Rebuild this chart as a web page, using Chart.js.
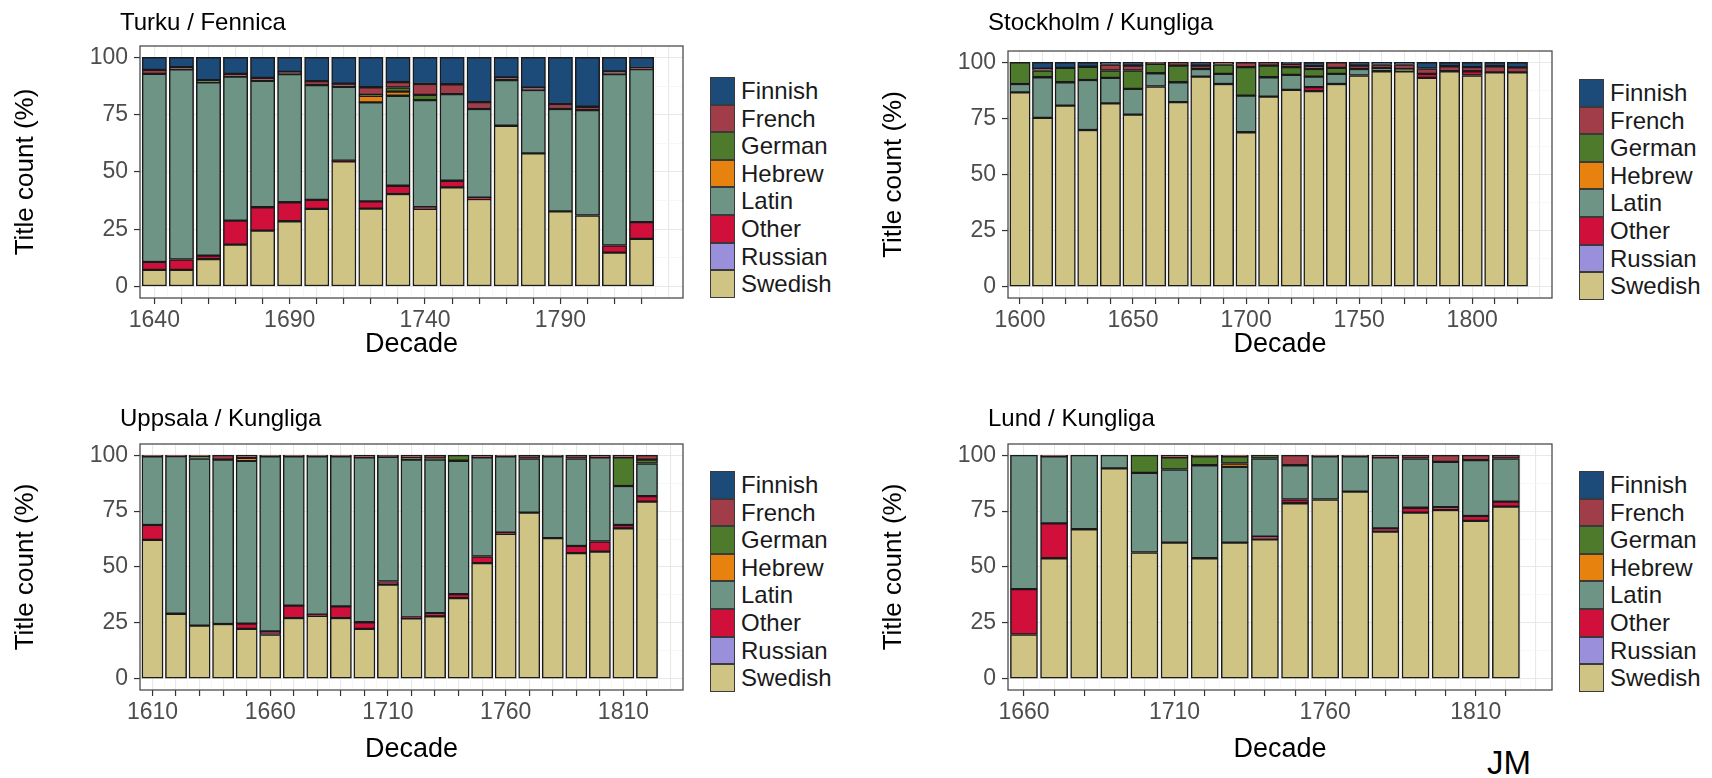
<!DOCTYPE html>
<html>
<head>
<meta charset="utf-8">
<script src="https://cdn.jsdelivr.net/npm/chart.js@4.4.1/dist/chart.umd.min.js"></script>
<style>
  body { margin: 0; background: #fff; font-family: "Liberation Sans", Arial, sans-serif; }
  #page { position: relative; width: 1712px; height: 778px; overflow: hidden; background: #fff; }
  #page canvas { position: absolute; }
  .ptitle { position: absolute; font-size: 24px; line-height: 25px; color: #000; white-space: nowrap; }
  .key { position: absolute; width: 25px; box-sizing: border-box; border: 1px solid #3a3a3a; }
  .lab { position: absolute; font-size: 24px; color: #1a1a1a; white-space: nowrap; }
  #jm { position: absolute; left: 1487px; top: 746px; font-size: 33px; line-height: 33px; color: #000; }
</style>
</head>
<body>
<div id="page"><div id="jm">JM</div></div>
<script>
// legend order (top to bottom) and stacking order (bottom to top)
const languages = ['Finnish', 'French', 'German', 'Hebrew', 'Latin', 'Other', 'Russian', 'Swedish']
const stackOrder = ['Swedish', 'Russian', 'Other', 'Latin', 'Hebrew', 'German', 'French', 'Finnish']

// Turku / Fennica
const turkuDecades = [1640, 1650, 1660, 1670, 1680, 1690, 1700, 1710, 1720, 1730, 1740, 1750, 1760, 1770, 1780, 1790, 1800, 1810, 1820]
const turkuSwedish = [7.3, 7.3, 12, 18.3, 24.4, 28.5, 33.9, 54.7, 34, 40.4, 33.9, 43.3, 38.2, 70.2, 58.1, 32.8, 31, 14.8, 20.8]
const turkuOther   = [3.4, 4.5, 1.5, 10.5, 10.2, 8.3, 3.9, 0.3, 3.2, 3.6, 0.7, 2.9, 0.6, 0, 0, 0, 0, 3.1, 7.3]
const turkuLatin   = [82.1, 83, 75.6, 62.8, 55.2, 55.9, 50.1, 32.2, 43.2, 39.3, 46.8, 37.8, 38.7, 19.9, 27.7, 44.7, 46, 74.8, 66.8]
const turkuHebrew  = [0, 0, 0, 0, 0, 0, 0, 0, 2.8, 1.8, 0, 0, 0, 0, 0, 0, 0, 0, 0]
const turkuGerman  = [0, 0, 1, 0, 0, 0, 0, 0, 0.5, 1.8, 2.3, 0, 0, 0, 0, 0, 0, 0, 0]
const turkuFrench  = [1.8, 1, 0, 1.2, 1.3, 1, 1.8, 1.4, 3.3, 2.3, 4.7, 4.3, 3, 1.2, 1, 2.2, 1.5, 1.2, 0.5]
const turkuFinnish = [5.4, 4.2, 9.9, 7.2, 8.9, 6.3, 10.3, 11.4, 13, 10.8, 11.6, 11.7, 19.5, 8.7, 13.2, 20.3, 21.5, 6.1, 4.6]

// Stockholm / Kungliga
const stockholmDecades = [1600, 1610, 1620, 1630, 1640, 1650, 1660, 1670, 1680, 1690, 1700, 1710, 1720, 1730, 1740, 1750, 1760, 1770, 1780, 1790, 1800, 1810, 1820]
const stockholmSwedish = [86.6, 75.2, 80.7, 69.8, 81.7, 76.7, 89.2, 82.2, 93.6, 90.3, 68.8, 84.7, 87.7, 87.1, 90.3, 94.1, 96, 96, 93, 96, 94.1, 95.5, 95.5]
const stockholmOther   = [0, 0, 0, 0, 0, 0, 0, 0, 0, 0, 0, 0, 0, 1.8, 0, 0, 0, 0, 1.8, 0, 1.9, 0, 0]
const stockholmLatin   = [3.7, 18.1, 10.4, 22.3, 11.3, 11.4, 5.9, 8.9, 3.4, 4.5, 16.3, 8.6, 6.7, 4.7, 4.5, 2.9, 1.5, 0, 0, 0, 0, 0, 0]
const stockholmGerman  = [9.7, 3, 6.4, 5.9, 3.3, 8.2, 4.2, 7.4, 0, 4.2, 12.7, 5.2, 3.4, 3.4, 2.7, 0, 0, 1, 0, 0, 0, 0, 0]
const stockholmFrench  = [0, 0.8, 0, 0, 2.7, 2.2, 0.7, 1.5, 1.5, 1, 2.2, 1.5, 1.5, 1.3, 2.5, 1.5, 1.5, 2, 2.4, 2.2, 1.8, 2.7, 2.2]
const stockholmFinnish = [0, 2.9, 2.5, 2, 1, 1.5, 0, 0, 1.5, 0, 0, 0, 0.7, 1.7, 0, 1.5, 1, 1, 2.8, 1.8, 2.2, 1.8, 2.3]

// Uppsala / Kungliga
const uppsalaDecades = [1610, 1620, 1630, 1640, 1650, 1660, 1670, 1680, 1690, 1700, 1710, 1720, 1730, 1740, 1750, 1760, 1770, 1780, 1790, 1800, 1810, 1820]
const uppsalaSwedish = [62.1, 29.1, 23.8, 24.5, 22.3, 19.8, 27.2, 28.2, 27.2, 22.3, 42.1, 27, 27.9, 36.1, 51.7, 64.8, 74.3, 62.9, 56.2, 56.9, 67.3, 79.2]
const uppsalaOther   = [6.7, 0, 0, 0, 2.4, 1.4, 5.5, 0.5, 5.2, 3, 1.4, 0.5, 1.5, 1.8, 3, 0.5, 0, 0, 3.2, 4.5, 1.5, 2.5]
const uppsalaLatin   = [30.7, 70.5, 74.7, 73.5, 72.8, 78.3, 66.8, 70.8, 67.1, 73.7, 55.8, 70.5, 68.6, 59.6, 44.3, 34.2, 24.2, 36.6, 39.1, 37.6, 17.4, 14.6]
const uppsalaHebrew  = [0, 0, 0, 0, 1.2, 0, 0, 0, 0, 0, 0, 0, 0, 0, 0, 0, 0, 0, 0, 0, 0, 0]
const uppsalaGerman  = [0, 0, 1, 0, 0, 0, 0, 0, 0, 0, 0, 1, 0.5, 2.5, 0, 0, 0, 0, 0, 0, 12.8, 1.7]
const uppsalaFrench  = [0.5, 0.4, 0.5, 2, 1.3, 0.5, 0.5, 0.5, 0.5, 1, 0.7, 1, 1.5, 0, 1, 0.5, 1.5, 0.5, 1.5, 1, 1, 2]

// Lund / Kungliga
const lundDecades = [1660, 1670, 1680, 1690, 1700, 1710, 1720, 1730, 1740, 1750, 1760, 1770, 1780, 1790, 1800, 1810, 1820]
const lundSwedish = [19.8, 53.9, 66.9, 94.1, 56.5, 60.9, 53.9, 60.9, 62.4, 78.5, 80.2, 83.7, 65.8, 74.3, 75.5, 70.6, 77]
const lundOther   = [20.3, 15.6, 0, 0, 0, 0, 0, 0, 1.2, 1.7, 0, 0, 1.5, 2.2, 1.2, 2.2, 2.2]
const lundLatin   = [59.9, 30, 33.1, 5.9, 35.6, 32.7, 41.6, 33.9, 34.9, 15.3, 19.3, 15.8, 31.7, 22, 20.3, 25, 19.3]
const lundHebrew  = [0, 0, 0, 0, 0, 0, 0, 1.5, 0, 0, 0, 0, 0, 0, 0, 0, 0]
const lundGerman  = [0, 0, 0, 0, 7.9, 5.4, 4, 3.2, 1.5, 0, 0, 0, 0, 0, 0, 0, 0]
const lundFrench  = [0, 0.5, 0, 0, 0, 1, 0.5, 0.5, 0, 4.5, 0.5, 0.5, 1, 1.5, 3, 2.2, 1.5]

const yTicks = [0, 25, 50, 75, 100]
const xLimitRight = 1835.3

const colors = {
  Finnish: '#1c4b7a',
  French: '#a13d48',
  German: '#4e7a2c',
  Hebrew: '#e8820f',
  Latin: '#6e9486',
  Other: '#d00f3b',
  Russian: '#9a8fdb',
  Swedish: '#d0c485'
}

const FONT = '"Liberation Sans", Arial, sans-serif'
Chart.defaults.font.family = FONT
const AXIS_W = 140
const ROW_H = 389

const panels = [
  {title: 'Turku / Fennica', decades: turkuDecades,
   series: {Swedish: turkuSwedish, Other: turkuOther, Latin: turkuLatin, Hebrew: turkuHebrew, German: turkuGerman, French: turkuFrench, Finnish: turkuFinnish},
   left: 140, right: 683, top: 46, bottom: 298, rowTop: 0, titleTop: 9, legendTop: 77, xTitleGap: 47},
  {title: 'Stockholm / Kungliga', decades: stockholmDecades,
   series: {Swedish: stockholmSwedish, Other: stockholmOther, Latin: stockholmLatin, German: stockholmGerman, French: stockholmFrench, Finnish: stockholmFinnish},
   left: 1008, right: 1552, top: 51, bottom: 298, rowTop: 0, titleTop: 9, legendTop: 79, xTitleGap: 47},
  {title: 'Uppsala / Kungliga', decades: uppsalaDecades,
   series: {Swedish: uppsalaSwedish, Other: uppsalaOther, Latin: uppsalaLatin, Hebrew: uppsalaHebrew, German: uppsalaGerman, French: uppsalaFrench},
   left: 140, right: 683, top: 444, bottom: 690, rowTop: 389, titleTop: 405, legendTop: 471, xTitleGap: 60},
  {title: 'Lund / Kungliga', decades: lundDecades,
   series: {Swedish: lundSwedish, Other: lundOther, Latin: lundLatin, Hebrew: lundHebrew, German: lundGerman, French: lundFrench},
   left: 1008, right: 1552, top: 444, bottom: 690, rowTop: 389, titleTop: 405, legendTop: 471, xTitleGap: 60}
]

// panel border drawn over the bars, like ggplot's theme_bw
const frame = {
  id: 'frame',
  afterDatasetsDraw(chart) {
    const {ctx, chartArea: a} = chart
    ctx.save()
    ctx.strokeStyle = '#4d4d4d'
    ctx.lineWidth = 1.3
    ctx.strokeRect(a.left, a.top, a.right - a.left, a.bottom - a.top)
    ctx.restore()
  }
}

const page = document.getElementById('page')

function drawPanel(p) {
  const first = p.decades[0]
  const last = p.decades[p.decades.length - 1]
  const xMin = first - 5.3
  const xMax = xLimitRight
  // bars are 90% of a decade wide
  const barPx = (p.right - p.left) / (xMax - xMin) * 10 * 0.9

  const cLeft = p.left - AXIS_W
  const cW = p.right - cLeft + 6
  const canvas = document.createElement('canvas')
  canvas.width = cW
  canvas.height = ROW_H
  canvas.style.left = cLeft + 'px'
  canvas.style.top = p.rowTop + 'px'
  canvas.style.width = cW + 'px'
  canvas.style.height = ROW_H + 'px'
  page.appendChild(canvas)

  const datasets = stackOrder.filter(l => p.series[l]).map(l => ({
    label: l,
    data: p.decades.map((d, i) => ({x: d, y: p.series[l][i] || null})),
    backgroundColor: colors[l],
    borderColor: '#1a1a1a',
    borderWidth: 1.5,
    borderSkipped: false,
    barThickness: barPx
  }))

  const xH = p.rowTop + ROW_H - p.bottom
  const titleSize = 27
  const titlePadBottom = xH - p.xTitleGap - titleSize * 1.2 / 2

  new Chart(canvas, {
    type: 'bar',
    data: {datasets},
    options: {
      responsive: false,
      animation: false,
      layout: {padding: {top: p.top - p.rowTop, right: 6, left: 0, bottom: 0}},
      plugins: {legend: {display: false}, tooltip: {enabled: false}},
      scales: {
        x: {
          type: 'linear', stacked: true, offset: false, min: xMin, max: xMax,
          border: {display: false},
          afterFit: s => { s.height = xH },
          afterBuildTicks: s => {
            const t = []
            for (let v = first - 5; v <= last + 10; v += 5) {
              if (v >= xMin && v <= xMax) t.push({value: v})
            }
            s.ticks = t
          },
          grid: {
            offset: false,
            color: c => (c.tick && (c.tick.value - first) % 10 === 0) ? '#e8e8e8' : '#f3f3f3',
            lineWidth: c => (c.tick && (c.tick.value - first) % 10 === 0) ? 1.1 : 0.7,
            tickColor: c => (c.tick && (c.tick.value - first) % 10 === 0 && c.tick.value <= last) ? '#333' : 'rgba(0,0,0,0)',
            tickLength: 6,
            tickWidth: 1.2
          },
          ticks: {
            autoSkip: false, maxRotation: 0, minRotation: 0, padding: 3,
            color: '#4d4d4d', font: {size: 23},
            callback: v => ((v - first) % 50 === 0 && v <= last) ? String(v) : ''
          },
          title: {display: true, text: 'Decade', color: '#000', font: {size: titleSize},
                  padding: {top: 0, bottom: titlePadBottom}}
        },
        y: {
          stacked: true, min: -5, max: 105,
          border: {display: false},
          afterFit: s => { s.width = AXIS_W },
          afterBuildTicks: s => {
            const t = []
            yTicks.forEach((v, i) => {
              t.push({value: v})
              if (i < yTicks.length - 1) t.push({value: (v + yTicks[i + 1]) / 2})
            })
            s.ticks = t
          },
          grid: {
            color: c => (c.tick && yTicks.includes(c.tick.value)) ? '#e8e8e8' : '#f3f3f3',
            lineWidth: c => (c.tick && yTicks.includes(c.tick.value)) ? 1.1 : 0.7,
            tickColor: c => (c.tick && yTicks.includes(c.tick.value)) ? '#333' : 'rgba(0,0,0,0)',
            tickLength: 6,
            tickWidth: 1.2
          },
          ticks: {
            autoSkip: false, padding: 6, color: '#4d4d4d', font: {size: 23},
            callback: v => yTicks.includes(v) ? String(v) : ''
          },
          title: {display: true, text: 'Title count (%)', color: '#000', font: {size: 26},
                  padding: {top: 10, bottom: 0}}
        }
      }
    },
    plugins: [frame]
  })

  // panel title
  const t = document.createElement('div')
  t.className = 'ptitle'
  t.textContent = p.title
  t.style.left = (p.left - 20) + 'px'
  t.style.top = p.titleTop + 'px'
  page.appendChild(t)

  // ggplot-style legend
  const keyH = 27.6
  languages.forEach((l, i) => {
    const k = document.createElement('div')
    k.className = 'key'
    k.style.left = (p.right + 27) + 'px'
    k.style.top = (p.legendTop + i * keyH) + 'px'
    k.style.height = keyH + 'px'
    k.style.background = colors[l]
    page.appendChild(k)
    const lab = document.createElement('div')
    lab.className = 'lab'
    lab.textContent = l
    lab.style.left = (p.right + 58) + 'px'
    lab.style.top = (p.legendTop + i * keyH) + 'px'
    lab.style.height = keyH + 'px'
    lab.style.lineHeight = keyH + 'px'
    page.appendChild(lab)
  })
}

panels.forEach(drawPanel)
</script>
</body>
</html>
